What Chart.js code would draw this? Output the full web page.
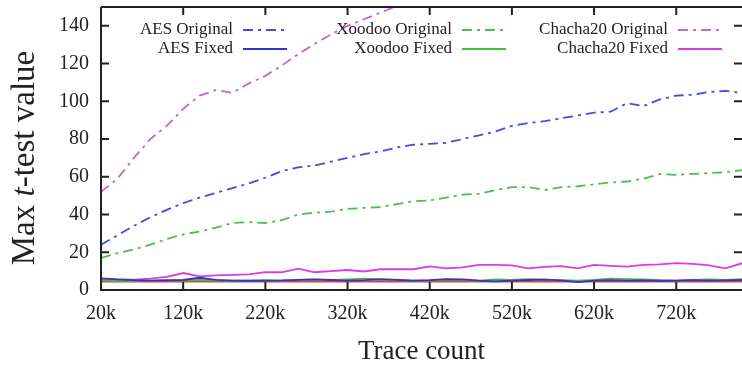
<!DOCTYPE html>
<html><head><meta charset="utf-8">
<script src="https://cdn.jsdelivr.net/npm/chart.js@4.4.1/dist/chart.umd.min.js"></script>
<style>html,body{margin:0;padding:0;background:#fff}</style>
</head><body>
<canvas id="c" width="742" height="368"></canvas>
<script>
// ---- data (trace counts in thousands) ----
const traceCountsK = [20,40,60,80,100,120,140,160,180,200,220,240,260,280,300,320,340,360,380,400,420,440,460,480,500,520,540,560,580,600,620,640,660,680,700,720,740,760,780,800];
const xTickValuesK = [20,120,220,320,420,520,620,720];
const yTickValues = [0,20,40,60,80,100,120,140];
const aesOriginal = [24,29,34,38.5,42.5,46,49,51.5,54,56.5,59.5,63,65,66,68,70,72,73.5,75.5,77,77.5,78,80,82,84,87,88.5,89.5,91,92.5,94,94.5,99,97.5,101,103,103.5,105,105.5,104.5];
const aesFixed = [6.2,5.6,5.2,5.0,5.1,5.3,6.5,5.4,5.0,4.9,5.0,5.1,5.4,5.6,5.3,5.0,5.2,5.6,5.4,5.0,5.2,5.8,5.6,5.0,4.6,5.0,5.3,5.5,5.1,4.2,5.0,5.2,5.0,5.1,4.9,5.0,5.2,5.0,5.1,5.3];
const xoodooOriginal = [17,19.5,21.5,24,27,29.5,31,33,35.5,36,35.5,37,40,41,41.5,43,43.5,44,45.5,47,47.5,49,50.5,51,53,54.5,54.5,53,54.5,55,56,57,57.5,59,61.5,61,61.5,62,62.5,63.5];
const xoodooFixed = [5.0,4.9,4.8,5.0,5.2,5.0,5.3,5.1,4.9,5.0,5.2,5.0,5.4,5.5,5.2,5.6,6.0,5.8,5.3,5.0,5.1,5.4,5.2,5.0,5.6,5.3,5.8,5.5,5.2,5.0,5.4,6.0,5.8,5.6,5.2,5.0,5.3,5.6,5.4,5.8];
const chachaOriginal = [52,59,70,80,87,96,103,106,104.5,109.5,113.5,119,125,130.5,135.5,140,143.5,147,150.5,154];
const chachaFixed = [6,5.5,5.5,6,7,9,7.2,7.8,8,8.3,9.5,9.4,11.3,9.4,10,10.6,9.8,11,11,11,12.5,11.5,12,13.3,13.3,13,11.5,12.3,12.7,11.5,13.3,12.8,12.4,13.3,13.6,14.2,13.8,13,11.5,14.2];
const threshold = [4.5,4.5,4.5,4.5,4.5,4.5,4.5,4.5,4.5,4.5,4.5,4.5,4.5,4.5,4.5,4.5,4.5,4.5,4.5,4.5,4.5,4.5,4.5,4.5,4.5,4.5,4.5,4.5,4.5,4.5,4.5,4.5,4.5,4.5,4.5,4.5,4.5,4.5,4.5,4.5];

const SERIF = '"Liberation Serif", "Times New Roman", serif';
const pts = arr => arr.map((v,i)=>({x: traceCountsK[i]*1000, y: v}));
const DASHDOT = [10,5,3,5];

function ds(label, arr, color, dashed, inLegend=true){
  return {label, data: pts(arr), borderColor: color, backgroundColor: color,
    borderWidth: 1.8, borderDash: dashed ? DASHDOT : [], pointRadius: 0, tension: 0,
    fill: false, inLegend};
}

const datasets = [
  ds('AES Original', aesOriginal, '#4848e6', true),
  ds('AES Fixed', aesFixed, '#3232d2', false),
  ds('Xoodoo Original', xoodooOriginal, '#4cbf4c', true),
  ds('Xoodoo Fixed', xoodooFixed, '#3cc03c', false),
  ds('Chacha20 Original', chachaOriginal, '#c464cc', true),
  ds('Chacha20 Fixed', chachaFixed, '#dc3cdc', false),
  ds('threshold', threshold, '#e8402c', false, false)
];

const framePlugin = {
  id: 'frame',
  afterDraw(chart){
    const {ctx, chartArea:{left,right,top,bottom}, scales:{x,y}} = chart;
    ctx.save();
    ctx.strokeStyle = '#222'; ctx.lineWidth = 2;
    ctx.beginPath();
    ctx.moveTo(left, top); ctx.lineTo(right+2, top);
    ctx.moveTo(left, top); ctx.lineTo(left, bottom); ctx.lineTo(right+2, bottom);
    x.ticks.forEach(t=>{const px=x.getPixelForValue(t.value);
      ctx.moveTo(px,bottom); ctx.lineTo(px,bottom-8); ctx.moveTo(px,top); ctx.lineTo(px,top+8);});
    y.ticks.forEach(t=>{const py=y.getPixelForValue(t.value);
      ctx.moveTo(left,py); ctx.lineTo(left+8,py); ctx.moveTo(right,py); ctx.lineTo(right-8,py);});
    ctx.stroke();

    // legend
    const items = chart.data.datasets.filter(d=>d.inLegend);
    const colRight = [233, 452, 668];
    const rowY = [30, 49];
    ctx.font = '17px ' + SERIF;
    ctx.textAlign = 'right'; ctx.textBaseline = 'middle'; ctx.fillStyle = '#222';
    items.forEach((d,i)=>{
      const c = Math.floor(i/2), r = i%2;
      const xr = colRight[c], yy = rowY[r];
      ctx.fillText(d.label, xr, yy);
      ctx.beginPath();
      ctx.strokeStyle = d.borderColor; ctx.lineWidth = 1.8;
      ctx.setLineDash(d.borderDash || []);
      ctx.moveTo(xr+10, yy); ctx.lineTo(xr+54, yy); ctx.stroke();
      ctx.setLineDash([]);
    });

    // y title with italic t
    ctx.save();
    ctx.translate(25, 158); ctx.rotate(-Math.PI/2);
    ctx.fillStyle = '#222'; ctx.textBaseline = 'middle'; ctx.textAlign = 'left';
    const parts = [['Max ', ''], ['t', 'italic '], ['-test value', '']];
    let total = 0;
    parts.forEach(p=>{ctx.font = p[1] + '33px ' + SERIF; total += ctx.measureText(p[0]).width;});
    let xx = -total/2;
    parts.forEach(p=>{ctx.font = p[1] + '33px ' + SERIF; ctx.fillText(p[0], xx, 0); xx += ctx.measureText(p[0]).width;});
    ctx.restore();
    ctx.restore();
  }
};

new Chart(document.getElementById('c'), {
  type: 'line',
  data: { datasets },
  options: {
    responsive: false, animation: false,
    layout: { padding: { top: 7, left: 0, right: 0, bottom: 0 } },
    plugins: { legend: { display: false }, tooltip: { enabled: false } },
    scales: {
      x: {
        type: 'linear', min: 20000, max: 800000,
        afterBuildTicks: s => { s.ticks = xTickValuesK.map(v=>({value: v*1000})); },
        afterFit: s => { s.height = 78; s.paddingLeft = 0; s.paddingRight = 0; },
        grid: { display: false, drawTicks: false },
        border: { display: false },
        ticks: { color: '#222', font: { family: SERIF, size: 20 }, padding: 12, maxRotation: 0, autoSkip: false,
          callback: v => (v/1000) + 'k' },
        title: { display: true, text: 'Trace count', color: '#222', font: { family: SERIF, size: 27 }, padding: { top: 0, bottom: 0 } }
      },
      y: {
        min: 0, max: 150,
        afterBuildTicks: s => { s.ticks = yTickValues.map(v=>({value: v})); },
        afterFit: s => { s.width = 101; s.paddingTop = 0; s.paddingBottom = 0; },
        grid: { display: false, drawTicks: false },
        border: { display: false },
        ticks: { color: '#222', font: { family: SERIF, size: 20 }, padding: 12 }
      }
    }
  },
  plugins: [framePlugin]
});
</script>
</body></html>
